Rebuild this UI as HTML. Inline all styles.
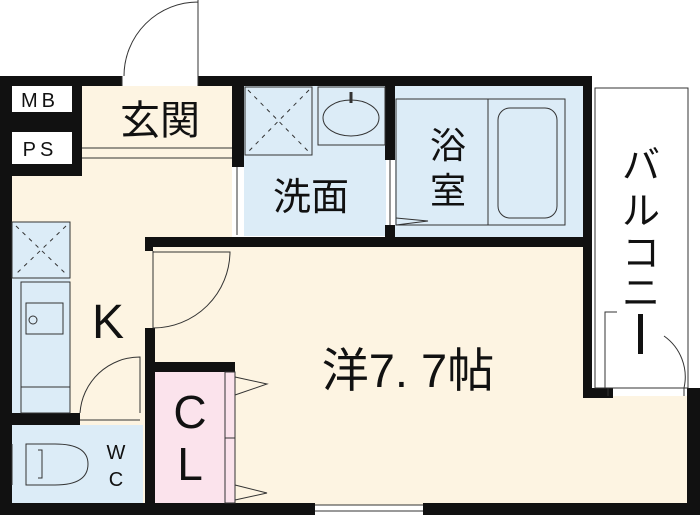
<!DOCTYPE html><html><head><meta charset="utf-8"><style>body{margin:0;background:#fff}svg{display:block}text{font-family:"Liberation Sans","Noto Sans CJK JP",sans-serif;fill:#111}</style></head><body>
<svg width="700" height="519" viewBox="0 0 700 519">
<rect x="12" y="86" width="220" height="420" fill="#fdf4e2"/>
<rect x="150" y="245" width="440" height="260" fill="#fdf4e2"/>
<rect x="590" y="396" width="98" height="108" fill="#fdf4e2"/>
<rect x="244" y="86" width="142" height="150" fill="#dcecf7"/>
<rect x="395" y="86" width="190" height="151" fill="#dcecf7"/>
<rect x="12" y="222" width="58" height="191" fill="#dcecf7"/>
<rect x="12" y="425" width="131" height="79" fill="#dcecf7"/>
<rect x="155" y="372" width="80" height="132" fill="#fbe3ec"/>
<rect x="0" y="76" width="82" height="100" fill="#111"/>
<rect x="12" y="86" width="60" height="26" fill="#fff"/>
<rect x="12" y="132" width="60" height="32" fill="#fff"/>
<text x="40" y="107" font-size="20" text-anchor="middle" letter-spacing="4">MB</text>
<text x="40" y="156" font-size="20" text-anchor="middle" letter-spacing="4">PS</text>
<rect x="0" y="76" width="122" height="10" fill="#111"/>
<rect x="198" y="76" width="394" height="10" fill="#111"/>
<rect x="0" y="76" width="12" height="439" fill="#111"/>
<rect x="0" y="503" width="315" height="12" fill="#111"/>
<rect x="423" y="503" width="277" height="12" fill="#111"/>
<rect x="687" y="388" width="13" height="127" fill="#111"/>
<rect x="583" y="76" width="9" height="322" fill="#111"/>
<rect x="583" y="388" width="30" height="10" fill="#111"/>
<rect x="232" y="76" width="12" height="91" fill="#111"/>
<rect x="385" y="76" width="10" height="84" fill="#111"/>
<rect x="385" y="225" width="10" height="22" fill="#111"/>
<rect x="145" y="237" width="447" height="10" fill="#111"/>
<rect x="145" y="237" width="8" height="14" fill="#111"/>
<rect x="145" y="328" width="10" height="175" fill="#111"/>
<rect x="145" y="362" width="90" height="10" fill="#111"/>
<rect x="12" y="413" width="68" height="12" fill="#111"/>
<g fill="none" stroke="#333" stroke-width="1">
<line x1="237" y1="167" x2="237" y2="235"/>
<line x1="390" y1="160" x2="390" y2="225"/>
<path d="M82 148H232M82 158H232"/>
<path d="M122 86V76M198 0V86M198 2A74 74 0 0 0 124 76"/>
<path d="M315 505H423M315 511H423"/>
<rect x="245" y="87" width="67" height="68"/>
<path d="M248 90L309 152M309 90L248 152" stroke-dasharray="4 5"/>
<rect x="318" y="87" width="67" height="58"/>
<ellipse cx="351" cy="118" rx="28" ry="18"/>
<line x1="351" y1="92" x2="351" y2="103" stroke-width="3"/>
<rect x="396" y="99" width="169" height="126"/>
<line x1="488" y1="99" x2="488" y2="225"/>
<rect x="498" y="108" width="59" height="110" rx="12"/>
<path d="M396 218L428 221L396 225"/>
<rect x="595" y="88" width="93" height="300"/>
<path d="M605 388V312H617M664 336A50 50 0 0 1 684 388"/>
<path d="M608 388V396M684 388V396"/>
<rect x="12" y="222" width="58" height="56"/>
<path d="M16 226L66 274M66 226L16 274" stroke-dasharray="4 5"/>
<rect x="21" y="282" width="49" height="131"/>
<rect x="26" y="303" width="37" height="31"/>
<circle cx="33" cy="320" r="4"/>
<line x1="21" y1="387" x2="70" y2="387"/>
<path d="M153 251V328M153 252H230A77 77 0 0 1 153 328"/>
<path d="M80 413A60 60 0 0 1 140 357V413"/>
<path d="M80 420H140"/>
<rect x="225" y="372" width="10" height="131"/>
<line x1="225" y1="438" x2="235" y2="438"/>
<path d="M235 377L267 384L235 395M235 485L267 493L235 500"/>
<path d="M12 444V485M26 444H55Q88 444 88 464Q88 485 55 485H26ZM26 445V485M38 450H42V478H38"/>
</g>
<text x="160" y="134" font-size="40" text-anchor="middle">玄関</text>
<text x="311" y="210" font-size="38" text-anchor="middle">洗面</text>
<text x="448" y="158" font-size="36" text-anchor="middle">浴</text>
<text x="448" y="203" font-size="36" text-anchor="middle">室</text>
<text x="641" y="178" font-size="38" text-anchor="middle">バ</text>
<text x="641" y="224" font-size="38" text-anchor="middle">ル</text>
<text x="641" y="266" font-size="38" text-anchor="middle">コ</text>
<text x="641" y="306" font-size="38" text-anchor="middle">ニ</text>
<rect x="638" y="314" width="5" height="40" fill="#111"/>
<text x="108" y="338" font-size="48" text-anchor="middle">K</text>
<text x="408" y="387" font-size="47" text-anchor="middle">洋7. 7帖</text>
<text x="190" y="428" font-size="46" text-anchor="middle">C</text>
<text x="190" y="480" font-size="46" text-anchor="middle">L</text>
<text x="116" y="459" font-size="20" text-anchor="middle">W</text>
<text x="116" y="486" font-size="20" text-anchor="middle">C</text>
</svg></body></html>
